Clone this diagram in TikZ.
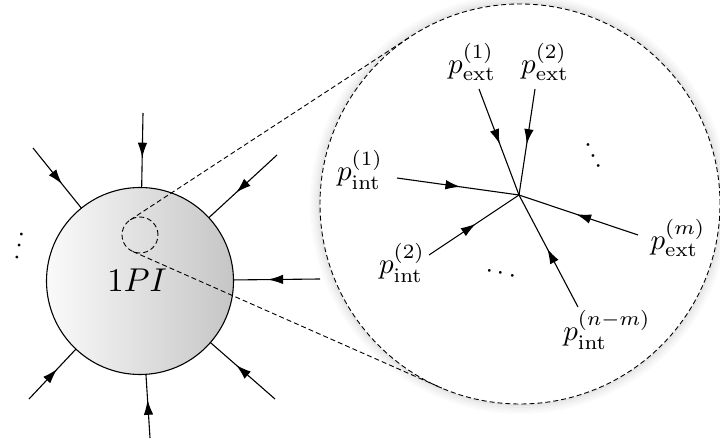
\documentclass[tikz,border=0pt]{standalone}
\usetikzlibrary{arrows.meta,decorations.markings}
\begin{document}
\begin{tikzpicture}[x=1pt,y=-1pt,
  line width=1.1pt,
  leg/.style={postaction={decorate},decoration={markings,mark=at position #1 with {\arrow{Latex[length=15pt,width=9.5pt]}}}},
  leg/.default=0.6,
  lbl/.style={scale=2.9, inner sep=0pt},
  dts/.style={scale=2.7, inner sep=0pt},
  zoomline/.style={line width=0.9pt, dash pattern=on 5pt off 3pt},
]
\useasboundingbox (0,0) rectangle (720,446);
% soft glow around the magnified region
\foreach \r/\o in {201/0.10,203/0.07,205/0.05,207/0.03,209/0.015}
  \draw[line width=2pt, black, draw opacity=\o] (520,204) circle[radius=\r pt];
% 1PI blob
\node[circle, draw, minimum size=187pt, inner sep=0pt, outer sep=0pt,
      left color=gray!4, right color=gray!45] (blob) at (140,281) {};
\node[scale=3.3, inner sep=0pt] (bloblbl) at (137,280) {$1PI$};
% external legs of the blob
\coordinate (o1) at (143,113);
\coordinate (o2) at (33,148);
\coordinate (o3) at (277,155);
\coordinate (o4) at (320,279);
\coordinate (o5) at (275,399);
\coordinate (o6) at (150,438);
\coordinate (o7) at (29,399);
\foreach \o in {o1,o2,o3,o4,o5,o6,o7}
  \draw[leg] (\o) -- (blob);
\node[dts, rotate=79] (ldots) at (20,246) {$\cdots$};
% zoom circle and magnified region
\node[circle, draw, zoomline, minimum size=36pt, inner sep=0pt, outer sep=0pt] (zc) at (140,235) {};
\node[circle, draw, zoomline, fill=white, minimum size=400pt, inner sep=0pt, outer sep=0pt] (lens) at (520,204) {};
\draw[zoomline] (zc.123.16) -- (lens.123.16);
\draw[zoomline] (zc.-113.85) -- (lens.-113.85);
% vertex
\coordinate (v) at (519,195);
\coordinate (e1) at (479,89);
\coordinate (e2) at (535,89);
\coordinate (i1) at (397,178);
\coordinate (i2) at (429,255);
\coordinate (em) at (638,235);
\coordinate (inm) at (578,307);
\foreach \o in {e1,e2,i1,i2,em,inm}
  \draw[leg=0.52] (\o) -- (v);
\node[lbl] (le1) at (472,62) {$p_{\mathrm{ext}}^{(1)}$};
\node[lbl] (le2) at (545,62) {$p_{\mathrm{ext}}^{(2)}$};
\node[lbl] (li1) at (360,170) {$p_{\mathrm{int}}^{(1)}$};
\node[lbl] (li2) at (402,263) {$p_{\mathrm{int}}^{(2)}$};
\node[lbl] (lem) at (678,238) {$p_{\mathrm{ext}}^{(m)}$};
\node[lbl] (linm) at (607,330) {$p_{\mathrm{int}}^{(n-m)}$};
\node[dts, rotate=-64.5] (udots) at (592.5,156) {$\cdots$};
\node[dts, rotate=-14] (bdots) at (501,274) {$\cdots$};
\end{tikzpicture}
\end{document}
